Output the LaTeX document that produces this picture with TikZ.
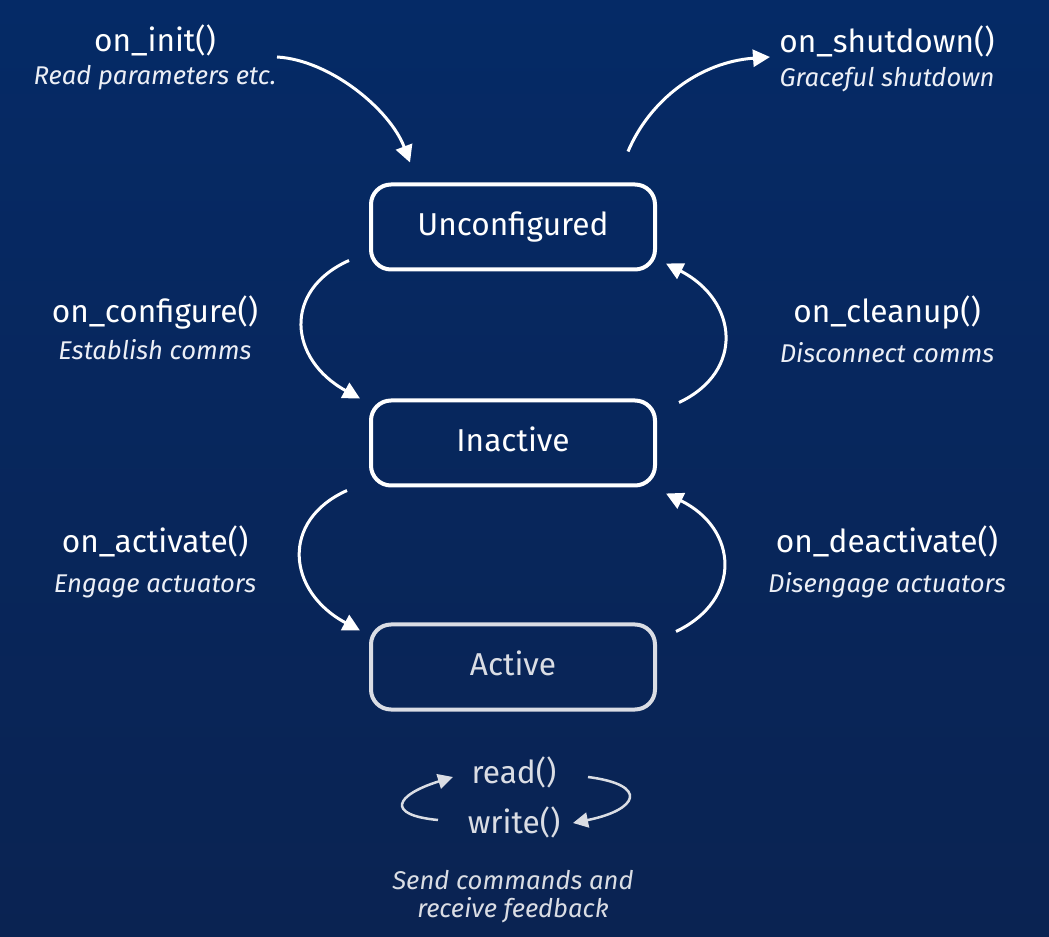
\documentclass[tikz,border=0pt]{standalone}
\usepackage{fontspec}
\setmainfont{Fira Sans}
\usetikzlibrary{arrows.meta}
\definecolor{bgtop}{RGB}{5,42,102}
\definecolor{bgmid}{RGB}{8,50,116}
\definecolor{bgbot}{RGB}{10,35,82}
\definecolor{notegray}{RGB}{236,239,246}
\definecolor{softgray}{RGB}{218,221,228}
\begin{document}
\begin{tikzpicture}[x=0.2mm, y=-0.2mm,
  state/.style={draw=white, line width=0.8mm, rounded corners=4mm, minimum width=56.8mm, minimum height=17mm,
    inner sep=0pt, text=white, font=\fontsize{18}{22}\selectfont, text height=0.95em, text depth=0em},
  call/.style={anchor=base, inner sep=0pt, text=white, font=\fontsize{18}{22}\selectfont},
  note/.style={anchor=base, inner sep=0pt, text=notegray, font=\fontsize{14.6}{17}\selectfont\itshape},
  trans/.style={draw=white, line width=0.6mm, -{Triangle[length=3.4mm, width=3.4mm]}},
  cycle/.style={draw=softgray, line width=0.5mm, -{Triangle[length=3mm, width=3mm]}}]
  \useasboundingbox (0,0) rectangle (1049,937);
  \shade[top color=bgtop, middle color=bgmid, bottom color=bgbot] (0,0) rectangle (1049,937);

  % states
  \node[state] (unconf) at (513,227) {Unconfigured};
  \node[state] (inact) at (513,443) {Inactive};
  \node[state, draw=softgray, text=softgray] (act) at (513,667) {Active};

  % callbacks
  \node[call] (initname) at (155,52) {on\_init()};
  \node[note] (initnote) at (155,85) {Read parameters etc.};
  \node[call] (shutname) at (887,53) {on\_shutdown()};
  \node[note] (shutnote) at (887,87) {Graceful shutdown};
  \node[call] (cfgname) at (155,323) {on\_configure()};
  \node[note] (cfgnote) at (155,360) {Establish comms};
  \node[call] (cleanname) at (887,323) {on\_cleanup()};
  \node[note] (cleannote) at (887,363) {Disconnect comms};
  \node[call] (actname) at (155,553) {on\_activate()};
  \node[note] (actnote) at (155,593) {Engage actuators};
  \node[call] (deactname) at (887,553) {on\_deactivate()};
  \node[note] (deactnote) at (887,593) {Disengage actuators};

  % read / write loop
  \node[call, text=softgray] (readcall) at (514,783) {read()};
  \node[call, text=softgray] (writecall) at (514,833) {write()};
  \node[note, text=softgray] (loopnote) at (513,889) {Send commands and};
  \node[note, text=softgray] (loopnotetwo) at (513,917) {receive feedback};

  % transitions
  \coordinate (initfrom) at (277,57);
  \coordinate (shutto) at (770,57);
  \draw[trans] (initfrom) .. controls +(53,3) and +(-20,-53) .. ([shift={(-103,-20)}]unconf.north);
  \draw[trans] ([shift={(115,-31)}]unconf.north) .. controls +(22,-52) and +(-70,5) .. (shutto);
  \draw[trans] ([shift={(-20,-11)}]unconf.south west) .. controls +(-67,30) and +(-71,-39) .. ([shift={(-9,0)}]inact.north west);
  \draw[trans] ([shift={(22,4)}]inact.north east) .. controls +(66,-31) and +(72,37) .. ([shift={(9,-8)}]unconf.south east);
  \draw[trans] ([shift={(-22,3)}]inact.south west) .. controls +(-67,30) and +(-73,-39) .. ([shift={(-9,8)}]act.north west);
  \draw[trans] ([shift={(19,9)}]act.north east) .. controls +(67,-32) and +(72,35) .. ([shift={(9,6)}]inact.south east);
  \draw[cycle] ([shift={(-76,-13)}]writecall.base) .. controls +(-53,-5) and +(-58,18) .. ([shift={(-61,-6)}]readcall.base);
  \draw[cycle] ([shift={(74,-6)}]readcall.base) .. controls +(62,8) and +(65,-13) .. ([shift={(59,-10)}]writecall.base);
\end{tikzpicture}
\end{document}
